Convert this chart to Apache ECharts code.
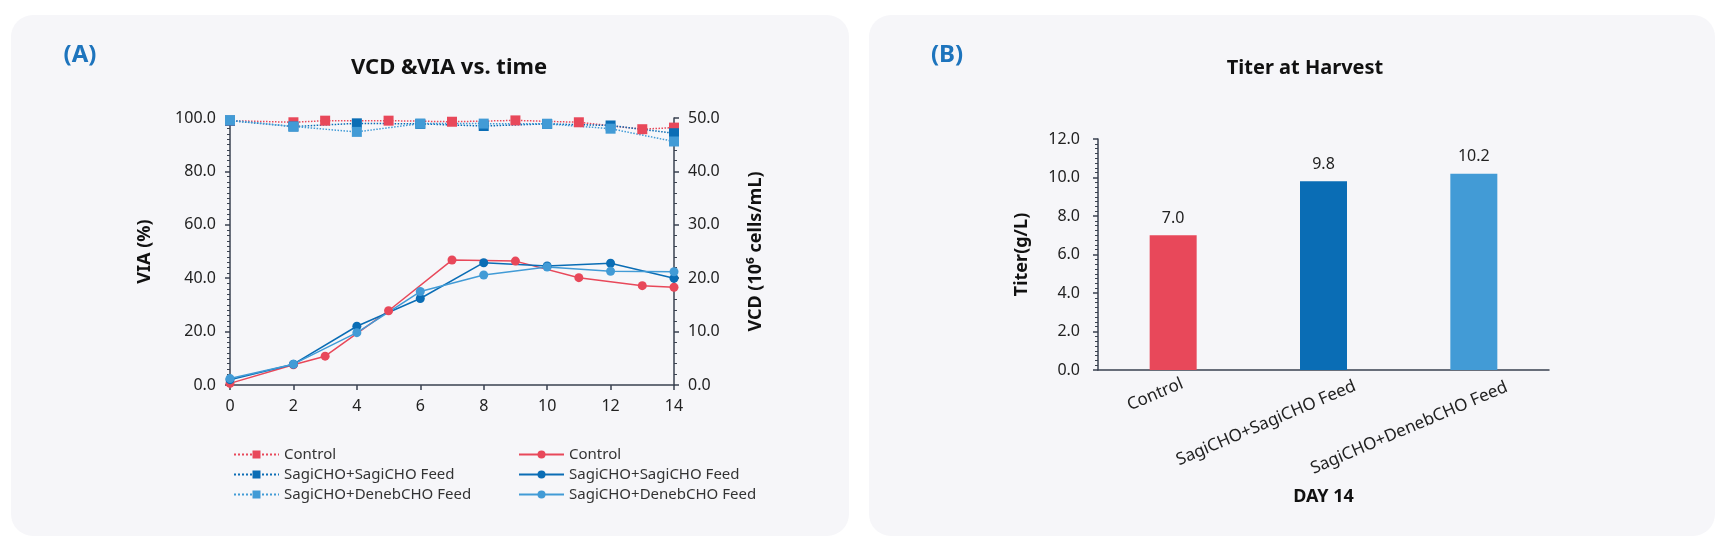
<!DOCTYPE html>
<html>
<head>
<meta charset="utf-8">
<title>VCD & VIA / Titer</title>
<script src="https://cdn.jsdelivr.net/npm/echarts@6/dist/echarts.min.js"></script>
<style>
  html, body { margin: 0; padding: 0; background: #ffffff; }
  #main { width: 1725px; height: 549px; }
</style>
</head>
<body>
<div id="main"></div>
<script>
(function () {
  'use strict';

  // data
  var feedDays = [0, 2, 4, 6, 8, 10, 12, 14];
  var controlDays = [0, 2, 3, 5, 7, 9, 11, 13, 14];

  var viaControl = [99.0, 98.4, 99.0, 99.0, 98.6, 99.1, 98.4, 95.8, 96.4];
  var viaSagi = [99.0, 96.8, 98.0, 97.8, 97.0, 97.8, 97.2, 94.3];
  var viaDeneb = [99.2, 96.8, 94.8, 97.9, 97.9, 97.8, 96.0, 91.2];

  var vcdControl = [0.3, 3.8, 5.4, 13.9, 23.4, 23.2, 20.1, 18.6, 18.3];
  var vcdSagi = [1.0, 3.9, 11.0, 16.2, 22.9, 22.3, 22.8, 20.0];
  var vcdDeneb = [1.2, 3.9, 9.8, 17.5, 20.6, 22.1, 21.3, 21.2];

  var groupNames = ['Control', 'SagiCHO+SagiCHO Feed', 'SagiCHO+DenebCHO Feed'];
  var titerValues = [7.0, 9.8, 10.2];

  var colors = ['#e8485a', '#0a6db5', '#429bd6'];
  var axisColor = '#3a4250';
  var textColor = '#222222';
  var fontFamily = '"Noto Sans", "Open Sans", sans-serif';

  function pairs(xs, ys) {
    var out = [];
    for (var i = 0; i < xs.length; i++) {
      out.push([xs[i], ys[i]]);
    }
    return out;
  }

  function oneDecimal(v) {
    return v.toFixed(1);
  }

  // rotated bar labels: spacer after the text and top padding,
  // so each label sits where the original put it
  var labelSpacer = [39, 134, 151];
  var labelDrop = [0, 22, 25];
  var richLabels = {};
  for (var k = 0; k < groupNames.length; k++) {
    richLabels['t' + k] = {fontSize: 17, color: textColor, fontFamily: fontFamily, padding: [labelDrop[k], 0, 0, 0]};
    richLabels['s' + k] = {width: labelSpacer[k]};
  }

  var myChart = echarts.init(document.getElementById('main'));

  var viaSeries = [
    {name: 'VIA:Control', xs: controlDays, ys: viaControl, c: colors[0]},
    {name: 'VIA:SagiCHO+SagiCHO Feed', xs: feedDays, ys: viaSagi, c: colors[1]},
    {name: 'VIA:SagiCHO+DenebCHO Feed', xs: feedDays, ys: viaDeneb, c: colors[2]}
  ];
  var vcdSeries = [
    {name: 'VCD:Control', xs: controlDays, ys: vcdControl, c: colors[0]},
    {name: 'VCD:SagiCHO+SagiCHO Feed', xs: feedDays, ys: vcdSagi, c: colors[1]},
    {name: 'VCD:SagiCHO+DenebCHO Feed', xs: feedDays, ys: vcdDeneb, c: colors[2]}
  ];

  var series = [];
  viaSeries.forEach(function (s) {
    series.push({
      name: s.name,
      type: 'line',
      xAxisIndex: 0,
      yAxisIndex: 0,
      data: pairs(s.xs, s.ys),
      symbol: 'rect',
      symbolSize: 10,
      color: s.c,
      lineStyle: {color: s.c, width: 1.5, type: 'dotted'},
      itemStyle: {color: s.c},
      animation: false
    });
  });
  vcdSeries.forEach(function (s) {
    series.push({
      name: s.name,
      type: 'line',
      xAxisIndex: 0,
      yAxisIndex: 1,
      data: pairs(s.xs, s.ys),
      symbol: 'circle',
      symbolSize: 9,
      color: s.c,
      lineStyle: {color: s.c, width: 1.5, type: 'solid'},
      itemStyle: {color: s.c},
      animation: false
    });
  });
  series.push({
    name: 'Titer',
    type: 'bar',
    xAxisIndex: 1,
    yAxisIndex: 2,
    barWidth: 47,
    data: titerValues,
    itemStyle: {
      color: function (p) { return colors[p.dataIndex]; }
    },
    label: {
      show: true,
      position: 'top',
      distance: 9,
      fontSize: 16,
      fontFamily: fontFamily,
      color: textColor,
      formatter: function (p) { return oneDecimal(p.value); }
    },
    animation: false
  });

  var legendCommon = {
    orient: 'vertical',
    top: 442,
    itemWidth: 45,
    itemHeight: 10,
    itemGap: 5,
    selectedMode: false,
    textStyle: {fontSize: 15, lineHeight: 15, color: '#333333', fontFamily: fontFamily},
    formatter: function (name) { return name.slice(4); }
  };

  var option = {
    backgroundColor: '#ffffff',
    textStyle: {fontFamily: fontFamily},
    graphic: [
      {type: 'rect', z: -10, shape: {x: 11, y: 15, width: 838, height: 521, r: 22}, style: {fill: '#f6f6f9'}},
      {type: 'rect', z: -10, shape: {x: 869, y: 15, width: 846, height: 521, r: 22}, style: {fill: '#f6f6f9'}},
      {type: 'text', x: 80, y: 55, style: {text: '(A)', fill: '#1d74bd', font: 'bold 24px ' + fontFamily, align: 'center', verticalAlign: 'middle'}},
      {type: 'text', x: 449, y: 68, style: {text: 'VCD &VIA vs. time', fill: '#111111', font: 'bold 22px ' + fontFamily, align: 'center', verticalAlign: 'middle'}},
      {type: 'text', x: 947, y: 55, style: {text: '(B)', fill: '#1d74bd', font: 'bold 24px ' + fontFamily, align: 'center', verticalAlign: 'middle'}},
      {type: 'text', x: 1305, y: 68, style: {text: 'Titer at Harvest', fill: '#111111', font: 'bold 20px ' + fontFamily, align: 'center', verticalAlign: 'middle'}}
    ],
    legend: [
      echarts.util.extend({left: 228, data: viaSeries.map(function (s) { return s.name; })}, legendCommon),
      echarts.util.extend({left: 513, data: vcdSeries.map(function (s) { return s.name; })}, legendCommon)
    ],
    grid: [
      {left: 230, right: 1051, top: 118, height: 267},
      {left: 1098, width: 451, top: 139, height: 231}
    ],
    xAxis: [
      {
        type: 'value',
        gridIndex: 0,
        min: 0,
        max: 14,
        interval: 2,
        axisLine: {show: true, lineStyle: {color: axisColor, width: 1.5}},
        axisTick: {show: true, length: 5, lineStyle: {color: axisColor, width: 1.5}},
        splitLine: {show: false},
        axisLabel: {fontSize: 16, color: textColor, margin: 13}
      },
      {
        type: 'category',
        gridIndex: 1,
        data: groupNames,
        name: 'DAY 14',
        nameLocation: 'middle',
        nameGap: 118,
        nameTextStyle: {fontSize: 18, fontWeight: 'bold', color: '#111111'},
        axisLine: {show: true, lineStyle: {color: axisColor, width: 1.5}},
        axisTick: {show: false},
        axisLabel: {
          interval: 0,
          rotate: 23,
          align: 'center',
          margin: 17,
          color: textColor,
          formatter: function (v, i) { return '{t' + i + '|' + v + '}{s' + i + '|}'; },
          rich: richLabels
        }
      }
    ],
    yAxis: [
      {
        type: 'value',
        gridIndex: 0,
        position: 'left',
        min: 0,
        max: 100,
        interval: 20,
        name: 'VIA (%)',
        nameLocation: 'middle',
        nameRotate: 90,
        nameGap: 76,
        nameTextStyle: {fontSize: 18, fontWeight: 'bold', color: '#111111'},
        axisLine: {show: true, lineStyle: {color: axisColor, width: 1.5}},
        axisTick: {show: true, length: 5, lineStyle: {color: axisColor, width: 1.5}},
        minorTick: {show: true, splitNumber: 10, length: 3, lineStyle: {color: axisColor, width: 1}},
        splitLine: {show: false},
        axisLabel: {fontSize: 16, color: textColor, margin: 14, formatter: oneDecimal}
      },
      {
        type: 'value',
        gridIndex: 0,
        position: 'right',
        min: 0,
        max: 50,
        interval: 10,
        name: 'VCD (10\u2076 cells/mL)',
        nameLocation: 'middle',
        nameRotate: 90,
        nameGap: 73,
        nameTextStyle: {fontSize: 18, fontWeight: 'bold', color: '#111111'},
        axisLine: {show: true, lineStyle: {color: axisColor, width: 1.5}},
        axisTick: {show: true, length: 5, lineStyle: {color: axisColor, width: 1.5}},
        minorTick: {show: true, splitNumber: 5, length: 3, lineStyle: {color: axisColor, width: 1}},
        splitLine: {show: false},
        axisLabel: {fontSize: 16, color: textColor, margin: 14, formatter: oneDecimal}
      },
      {
        type: 'value',
        gridIndex: 1,
        min: 0,
        max: 12,
        interval: 2,
        name: 'Titer(g/L)',
        nameLocation: 'middle',
        nameRotate: 90,
        nameGap: 67,
        nameTextStyle: {fontSize: 18, fontWeight: 'bold', color: '#111111'},
        axisLine: {show: true, lineStyle: {color: axisColor, width: 1.5}},
        axisTick: {show: true, length: 5, lineStyle: {color: axisColor, width: 1.5}},
        minorTick: {show: true, splitNumber: 8, length: 3, lineStyle: {color: axisColor, width: 1}},
        splitLine: {show: false},
        axisLabel: {fontSize: 16, color: textColor, margin: 18, formatter: oneDecimal}
      }
    ],
    series: series
  };

  myChart.setOption(option);
}());
</script>
</body>
</html>
